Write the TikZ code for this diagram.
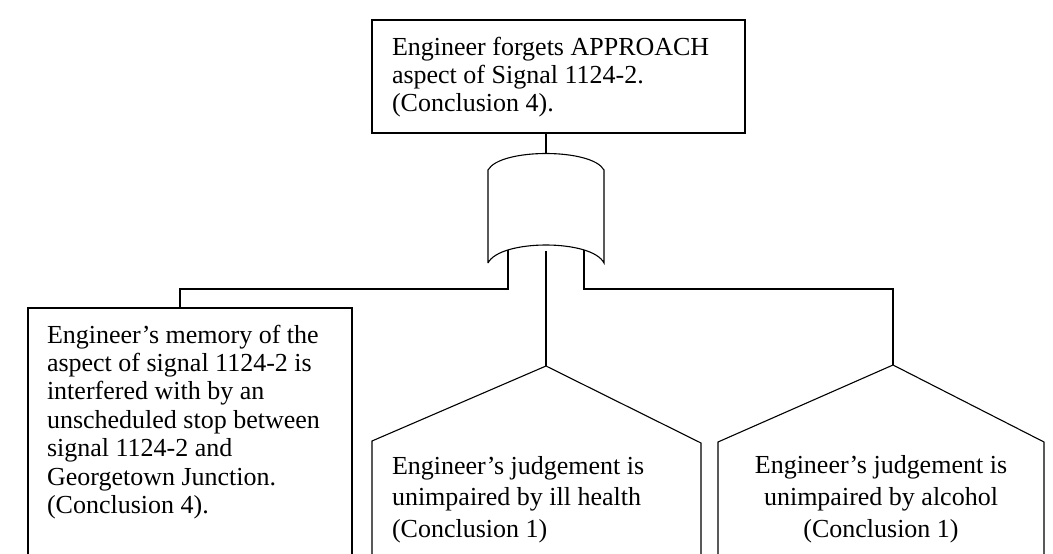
\documentclass[tikz,border=0pt]{standalone}
\usepackage{fontspec}
\setmainfont{Liberation Serif}
\begin{document}
\begin{tikzpicture}[x=1pt,y=-1pt,line width=1.1pt,
  txt/.style={inner sep=0pt, outer sep=0pt},
  wire/.style={draw=black, line width=1.1pt}]
\clip (0,0) rectangle (1053,554);
\fill[white] (0,0) rectangle (1053,554);

% top event box
\draw (372,20) rectangle (745,133);
\node[txt, anchor=base west] (top) at (392,55)
  {\parbox[t]{350pt}{\fontsize{26}{28.3}\selectfont\raggedright
   Engineer forgets APPROACH\\aspect of Signal 1124-2.\\(Conclusion 4).}};
\coordinate (topbot) at (546,133);

% OR gate
\draw (488,263) -- (488,170) .. controls (500,148) and (592,148) .. (604,170)
      -- (604,263) .. controls (592,239) and (500,239) .. (488,263);
\coordinate (gin)  at (546,153.5);
\coordinate (gl)   at (508,250);
\coordinate (gm)   at (546,251);
\coordinate (gr)   at (584,250);

% left event box
\draw (28,560) -- (28,308) -- (352,308) -- (352,560);
\coordinate (ltop) at (180,308);
\node[txt, anchor=base west] (left) at (47,343)
  {\parbox[t]{300pt}{\fontsize{26}{28.4}\selectfont\raggedright
   Engineer’s memory of the\\aspect of signal 1124-2 is\\interfered with by an\\
   unscheduled stop between\\signal 1124-2 and\\Georgetown Junction.\\(Conclusion 4).}};

% middle house event
\draw (372,560) -- (372,441) -- (546,366) -- (701,443) -- (701,560);
\coordinate (mtop) at (546,366);
\node[txt, anchor=base west] (mid) at (392,474)
  {\parbox[t]{300pt}{\fontsize{26}{31.5}\selectfont\raggedright
   Engineer’s judgement is\\unimpaired by ill health\\(Conclusion 1)}};

% right house event
\draw (718,560) -- (718,442) -- (893,365) -- (1044,442) -- (1044,560);
\coordinate (rtop) at (893,365);
\node[txt, anchor=base] (right) at (881,473)
  {\parbox[t]{300pt}{\fontsize{26}{32}\selectfont\centering
   Engineer’s judgement is\\unimpaired by alcohol\\(Conclusion 1)}};

% connectors
\draw[wire] (topbot) -- (gin);
\draw[wire] (gl) |- (180,289) -- (ltop);
\draw[wire] (gm) -- (mtop);
\draw[wire] (gr) |- (893,289) -- (rtop);
\end{tikzpicture}
\end{document}
